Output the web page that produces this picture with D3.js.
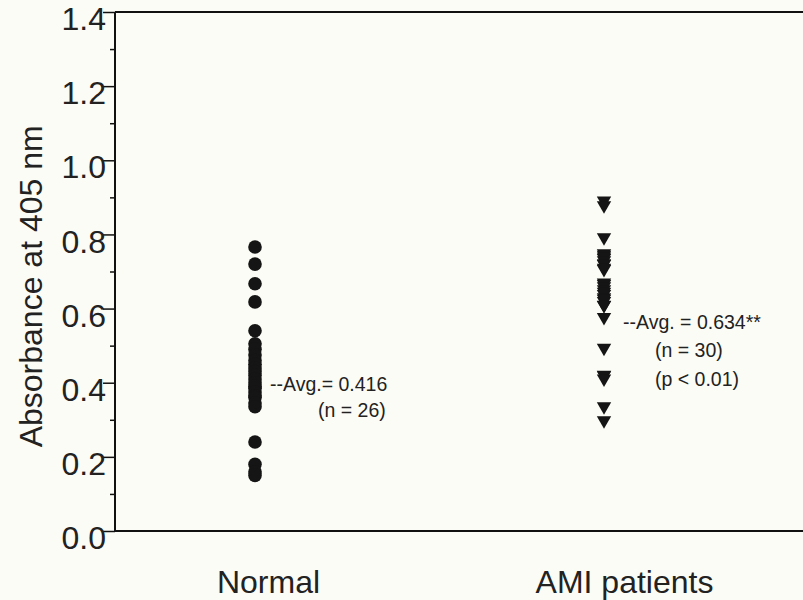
<!DOCTYPE html>
<html>
<head>
<meta charset="utf-8">
<script src="https://cdn.jsdelivr.net/npm/d3@7"></script>
<style>
  body { margin: 0; background: #fcfcf6; }
  svg { display: block; }
  .tick-label { font-family: "Liberation Sans", Arial, sans-serif; font-size: 32px; fill: #222; }
  .note text { font-family: "Liberation Sans", Arial, sans-serif; font-size: 19.5px; fill: #222; }
</style>
</head>
<body>
<div id="chart"></div>
<script>
  // data
  const groups = ["Normal", "AMI patients"];
  const normalValues = [0.766, 0.72, 0.667, 0.618, 0.54, 0.505, 0.49, 0.475, 0.46, 0.45,
      0.44, 0.43, 0.42, 0.41, 0.40, 0.39, 0.385, 0.375, 0.365, 0.36,
      0.345, 0.335, 0.24, 0.18, 0.16, 0.15];
  const amiValues = [0.891, 0.878, 0.792, 0.749, 0.745, 0.74, 0.736, 0.73, 0.722, 0.72,
      0.71, 0.706, 0.67, 0.666, 0.66, 0.652, 0.645, 0.639, 0.63, 0.626,
      0.62, 0.61, 0.609, 0.577, 0.494, 0.421, 0.42, 0.411, 0.336, 0.298];
  const yTicks = [0.0, 0.2, 0.4, 0.6, 0.8, 1.0, 1.2, 1.4];
  const yMinorTicks = [0.1, 0.3, 0.5, 0.7, 0.9, 1.1, 1.3];
  const notes = [
      ["--Avg.= 0.416", "(n = 26)"],
      ["--Avg. = 0.634**", "(n = 30)", "(p < 0.01)"]
  ];

  const W = 803, H = 600;
  const margin = { top: 12, right: 0, bottom: 69, left: 115 };

  const svg = d3.select("#chart")
      .append("svg")
      .attr("width", W)
      .attr("height", H);

  const y = d3.scaleLinear()
      .domain([0, 1.4])
      .range([H - margin.bottom, margin.top]);

  const x = d3.scalePoint()
      .domain(groups)
      .range([255, 604]);

  // minor ticks
  svg.append("g")
      .attr("transform", `translate(${margin.left},0)`)
      .call(d3.axisLeft(y).tickValues(yMinorTicks).tickSize(5).tickFormat(""))
      .call(g => g.select(".domain").remove())
      .selectAll("line").attr("stroke", "#111").attr("stroke-width", 1.5);

  // major ticks + labels
  const yAxis = svg.append("g")
      .attr("transform", `translate(${margin.left},0)`)
      .call(d3.axisLeft(y).tickValues(yTicks).tickSize(12).tickPadding(-3).tickFormat(d3.format(".1f")));
  yAxis.select(".domain").remove();
  yAxis.selectAll("line").attr("stroke", "#111").attr("stroke-width", 1.5);
  yAxis.selectAll("text")
      .attr("class", "tick-label")
      .attr("font-size", null)
      .attr("font-family", null)
      .attr("dy", "0.55em");

  // frame lines
  svg.append("line")
      .attr("x1", margin.left).attr("x2", margin.left)
      .attr("y1", y(1.4)).attr("y2", y(0))
      .attr("stroke", "#111").attr("stroke-width", 2);
  svg.append("line")
      .attr("x1", margin.left).attr("x2", W)
      .attr("y1", y(1.4)).attr("y2", y(1.4))
      .attr("stroke", "#111").attr("stroke-width", 2);
  svg.append("line")
      .attr("x1", margin.left).attr("x2", W)
      .attr("y1", y(0)).attr("y2", y(0))
      .attr("stroke", "#111").attr("stroke-width", 2);

  // category labels
  const xAxis = svg.append("g")
      .attr("transform", `translate(0,${H - 7})`)
      .call(d3.axisBottom(x).tickSize(0).tickPadding(0));
  xAxis.select(".domain").remove();
  xAxis.selectAll("text")
      .attr("class", "tick-label")
      .attr("font-size", null)
      .attr("font-family", null)
      .attr("dy", 0)
      .attr("dx", (d, i) => i === 0 ? 13 : 20);

  // y title
  svg.append("text")
      .attr("class", "tick-label")
      .attr("transform", `translate(42,${y(0.66)}) rotate(-90)`)
      .attr("text-anchor", "middle")
      .text("Absorbance at 405 nm");

  // points
  svg.append("g")
      .selectAll("circle")
      .data(normalValues)
      .join("circle")
      .attr("cx", x("Normal"))
      .attr("cy", d => y(d))
      .attr("r", 6.8)
      .attr("fill", "#151515");

  const tri = d3.symbol().type(d3.symbolTriangle).size(90);
  svg.append("g")
      .selectAll("path")
      .data(amiValues)
      .join("path")
      .attr("d", tri)
      .attr("transform", d => `translate(${x("AMI patients")},${y(d)}) rotate(180)`)
      .attr("fill", "#151515");

  // annotations
  const noteG = svg.append("g").attr("class", "note");
  noteG.append("text").attr("x", 270).attr("y", 391).text(notes[0][0]);
  noteG.append("text").attr("x", 318).attr("y", 417).text(notes[0][1]);
  noteG.append("text").attr("x", 623).attr("y", 329).text(notes[1][0]);
  noteG.append("text").attr("x", 655).attr("y", 357).text(notes[1][1]);
  noteG.append("text").attr("x", 655).attr("y", 386).text(notes[1][2]);
</script>
</body>
</html>
